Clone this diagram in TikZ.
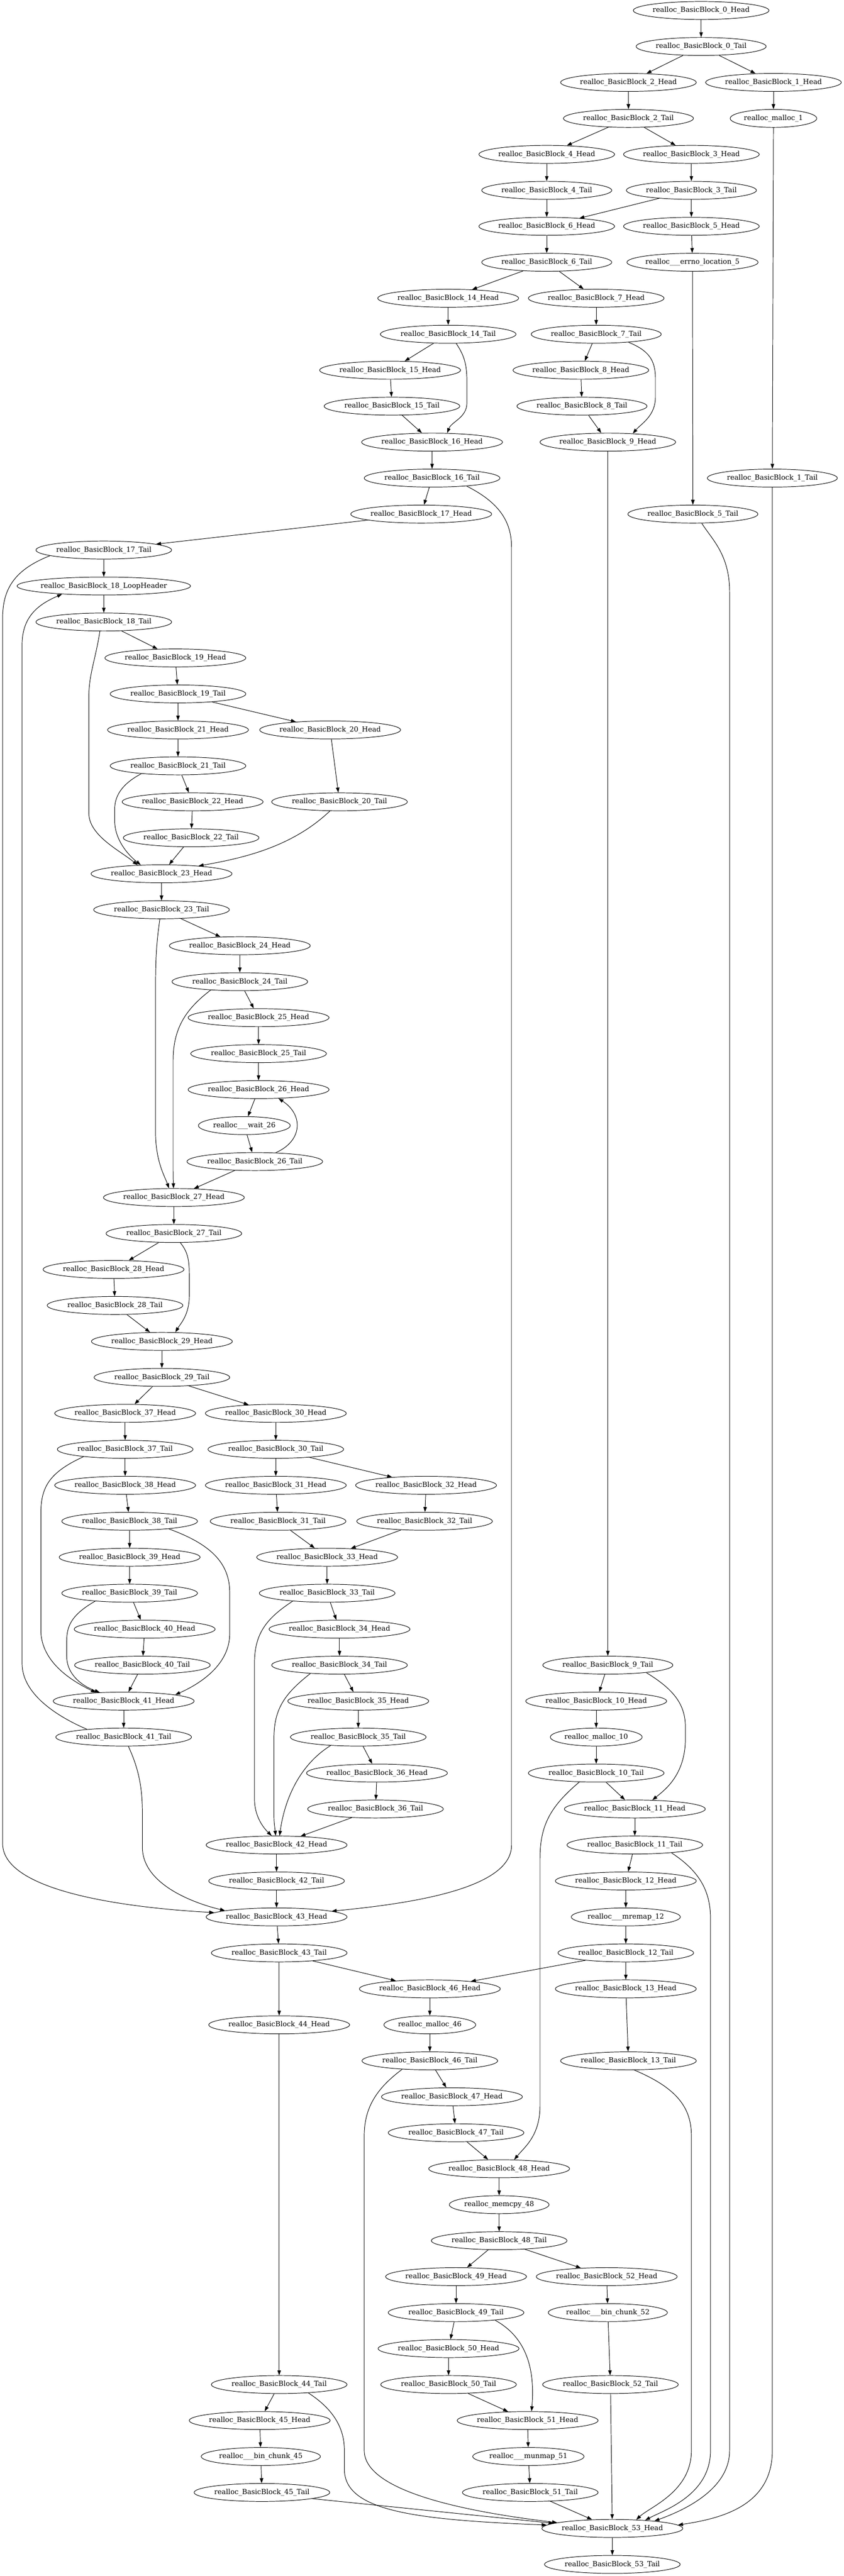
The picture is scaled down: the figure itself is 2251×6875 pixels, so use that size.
\documentclass[tikz,border=0pt]{standalone}
\usepackage{fontspec}
\usetikzlibrary{shapes.geometric,arrows.meta}
\newfontfamily\dvserif{DejaVu Serif}
\tikzset{
 nd/.style={ellipse, draw, line width=1.33pt, inner xsep=-5pt, inner ysep=0pt, minimum height=48pt, font=\dvserif\fontsize{18.67pt}{22pt}\selectfont},
 edg/.style={draw, line width=1.33pt, -{Triangle[length=13.3pt,width=9.3pt]}}
}
\newcommand\mkN[5]{\node[nd, minimum width=#4pt] (#1) at (#2,{28+96*#3}) {#5};}
\newcommand\mkH[5]{\mkN{#1}{#2}{#3}{#5}{realloc\_BasicBlock\_#4\_Head}}
\newcommand\mkT[5]{\mkN{#1}{#2}{#3}{#5}{realloc\_BasicBlock\_#4\_Tail}}
\begin{document}
\begin{tikzpicture}[x=1pt,y=-1pt]
\path[fill=white] (0,0) rectangle (2251,6875);
\mkH{n0H}{1871}{0}{0}{362}
\mkT{n0T}{1871}{1}{0}{347}
\mkH{n2H}{1677}{2}{2}{362}
\mkH{n1H}{2064}{2}{1}{362}
\mkT{n2T}{1677}{3}{2}{347}
\mkN{m1}{2064}{3}{231}{realloc\_malloc\_1}
\mkH{n4H}{1459}{4}{4}{362}
\mkH{n3H}{1845}{4}{3}{362}
\mkT{n4T}{1459}{5}{4}{347}
\mkT{n3T}{1845}{5}{3}{347}
\mkH{n6H}{1459}{6}{6}{362}
\mkH{n5H}{1845}{6}{5}{362}
\mkT{n6T}{1459}{7}{6}{347}
\mkN{e5}{1848}{7}{350}{realloc\_\_\_errno\_location\_5}
\mkH{n14H}{1196}{8}{14}{376}
\mkH{n7H}{1591}{8}{7}{362}
\mkT{n14T}{1196}{9}{14}{362}
\mkT{n7T}{1591}{9}{7}{347}
\mkH{n15H}{1041}{10}{15}{376}
\mkH{n8H}{1550}{10}{8}{362}
\mkT{n15T}{1046}{11}{15}{362}
\mkT{n8T}{1553}{11}{8}{347}
\mkH{n16H}{1153}{12}{16}{376}
\mkH{n9H}{1622}{12}{9}{362}
\mkT{n16T}{1153}{13}{16}{362}
\mkT{n1T}{2061}{13}{1}{347}
\mkH{n17H}{1124}{14}{17}{376}
\mkT{n5T}{1849}{14}{5}{347}
\mkT{n17T}{277}{15}{17}{362}
\mkN{n18L}{277}{16}{460}{realloc\_BasicBlock\_18\_LoopHeader}
\mkT{n18T}{277}{17}{18}{362}
\mkH{n19H}{468}{18}{19}{376}
\mkT{n19T}{475}{19}{19}{362}
\mkH{n21H}{475}{20}{21}{376}
\mkH{n20H}{881}{20}{20}{376}
\mkT{n21T}{475}{21}{21}{362}
\mkH{n22H}{514}{22}{22}{376}
\mkT{n20T}{906}{22}{20}{362}
\mkT{n22T}{510}{23}{22}{362}
\mkH{n23H}{431}{24}{23}{376}
\mkT{n23T}{431}{25}{23}{362}
\mkH{n24H}{640}{26}{24}{376}
\mkT{n24T}{640}{27}{24}{362}
\mkH{n25H}{690}{28}{25}{376}
\mkT{n25T}{690}{29}{25}{362}
\mkH{n26H}{690}{30}{26}{376}
\mkN{w26}{652}{31}{245}{realloc\_\_\_wait\_26}
\mkT{n26T}{680}{32}{26}{362}
\mkH{n27H}{464}{33}{27}{376}
\mkT{n27T}{464}{34}{27}{362}
\mkH{n28H}{303}{35}{28}{376}
\mkT{n28T}{307}{36}{28}{362}
\mkH{n29H}{432}{37}{29}{376}
\mkT{n29T}{432}{38}{29}{362}
\mkH{n37H}{334}{39}{37}{376}
\mkH{n30H}{736}{39}{30}{376}
\mkT{n37T}{334}{40}{37}{362}
\mkT{n30T}{736}{40}{30}{362}
\mkH{n38H}{334}{41}{38}{376}
\mkH{n31H}{736}{41}{31}{376}
\mkH{n32H}{1137}{41}{32}{376}
\mkT{n38T}{346}{42}{38}{362}
\mkT{n31T}{742}{42}{31}{362}
\mkT{n32T}{1133}{42}{32}{362}
\mkH{n39H}{346}{43}{39}{376}
\mkH{n33H}{873}{43}{33}{376}
\mkT{n39T}{346}{44}{39}{362}
\mkT{n33T}{873}{44}{33}{362}
\mkH{n40H}{386}{45}{40}{376}
\mkH{n34H}{906}{45}{34}{376}
\mkT{n40T}{380}{46}{40}{362}
\mkT{n34T}{906}{46}{34}{362}
\mkT{n9T}{1622}{46}{9}{347}
\mkH{n41H}{330}{47}{41}{376}
\mkH{n35H}{956}{47}{35}{376}
\mkH{n10H}{1591}{47}{10}{376}
\mkT{n41T}{330}{48}{41}{362}
\mkT{n35T}{956}{48}{35}{362}
\mkN{m10}{1591}{48}{245}{realloc\_malloc\_10}
\mkH{n36H}{1006}{49}{36}{376}
\mkT{n10T}{1591}{49}{10}{362}
\mkT{n36T}{1002}{50}{36}{362}
\mkH{n11H}{1694}{50}{11}{376}
\mkH{n42H}{738}{51}{42}{376}
\mkT{n11T}{1694}{51}{11}{362}
\mkT{n42T}{738}{52}{42}{362}
\mkH{n12H}{1670}{52}{12}{376}
\mkH{n43H}{738}{53}{43}{376}
\mkN{mr12}{1670}{53}{291}{realloc\_\_\_mremap\_12}
\mkT{n43T}{745}{54}{43}{362}
\mkT{n12T}{1670}{54}{12}{362}
\mkH{n46H}{1147}{55}{46}{376}
\mkH{n13H}{1670}{55}{13}{376}
\mkH{n44H}{745}{56}{44}{376}
\mkN{m46}{1147}{56}{245}{realloc\_malloc\_46}
\mkT{n46T}{1147}{57}{46}{362}
\mkT{n13T}{1677}{57}{13}{362}
\mkH{n47H}{1206}{58}{47}{376}
\mkT{n47T}{1217}{59}{47}{362}
\mkH{n48H}{1332}{60}{48}{376}
\mkN{mc48}{1332}{61}{266}{realloc\_memcpy\_48}
\mkT{n48T}{1332}{62}{48}{362}
\mkH{n49H}{1217}{63}{49}{376}
\mkH{n52H}{1619}{63}{52}{376}
\mkT{n49T}{1217}{64}{49}{362}
\mkN{bc52}{1622}{64}{318}{realloc\_\_\_bin\_chunk\_52}
\mkH{n50H}{1197}{65}{50}{376}
\mkT{n44T}{745}{66}{44}{362}
\mkT{n50T}{1197}{66}{50}{362}
\mkT{n52T}{1629}{66}{52}{362}
\mkH{n45H}{693}{67}{45}{376}
\mkH{n51H}{1408}{67}{51}{376}
\mkN{bc45}{696}{68}{318}{realloc\_\_\_bin\_chunk\_45}
\mkN{mu51}{1410}{68}{297}{realloc\_\_\_munmap\_51}
\mkT{n45T}{699}{69}{45}{362}
\mkT{n51T}{1415}{69}{51}{362}
\mkH{n53H}{1634}{70}{53}{376}
\mkT{n53T}{1634}{71}{53}{362}
% straight edges
\foreach \a/\b in {n0H/n0T, n0T/n2H, n0T/n1H, n2H/n2T, n1H/m1, n2T/n4H, n2T/n3H, m1/n1T, n4H/n4T, n3H/n3T, n4T/n6H, n3T/n6H, n3T/n5H, n6H/n6T, n5H/e5, e5/n5T, n6T/n14H, n6T/n7H, n14H/n14T, n7H/n7T, n14T/n15H, n15H/n15T, n15T/n16H, n7T/n8H, n8H/n8T, n8T/n9H, n16H/n16T, n9H/n9T, n16T/n17H, n17H/n17T, n17T/n18L, n18L/n18T, n18T/n19H, n19H/n19T, n19T/n21H, n19T/n20H, n21H/n21T, n20H/n20T, n21T/n22H, n22H/n22T, n22T/n23H, n23H/n23T, n23T/n24H, n24H/n24T, n24T/n25H, n25H/n25T, n25T/n26H, n26H/w26, w26/n26T, n26T/n27H, n27H/n27T, n27T/n28H, n28H/n28T, n28T/n29H, n29H/n29T, n29T/n37H, n29T/n30H, n37H/n37T, n30H/n30T, n37T/n38H, n30T/n31H, n30T/n32H, n38H/n38T, n31H/n31T, n32H/n32T, n38T/n39H, n31T/n33H, n32T/n33H, n39H/n39T, n33H/n33T, n39T/n40H, n33T/n34H, n40H/n40T, n34H/n34T, n40T/n41H, n9T/n10H, n41H/n41T, n34T/n35H, n35H/n35T, n10H/m10, n35T/n36H, m10/n10T, n36H/n36T, n36T/n42H, n10T/n11H, n11H/n11T, n42H/n42T, n11T/n12H, n42T/n43H, n12H/mr12, n43H/n43T, mr12/n12T, n43T/n44H, n43T/n46H, n12T/n46H, n12T/n13H, n46H/m46, n13H/n13T, n44H/n44T, m46/n46T, n46T/n47H, n47H/n47T, n47T/n48H, n48H/mc48, mc48/n48T, n48T/n49H, n48T/n52H, n49H/n49T, n52H/bc52, n49T/n50H, bc52/n52T, n50H/n50T, n50T/n51H, n44T/n45H, n45H/bc45, n51H/mu51, bc45/n45T, mu51/n51T, n51T/n53H, n52T/n53H, n53H/n53T}
  \draw[edg] (\a) -- (\b);
% curved edges
\draw[edg] (n14T.-49) .. controls (1240,950) and (1246,975) .. (1246,1020) -- (1246,1075) .. controls (1246,1115) and (1205,1125) .. (n16H.31);
\draw[edg] (n7T.-14) .. controls (1730,935) and (1749,960) .. (1749,1010) -- (1749,1060) .. controls (1749,1110) and (1712,1130) .. (n9H.19);
\draw[edg] (n16T.-13) .. controls (1330,1340) and (1365,1390) .. (1365,1460) -- (1365,4925) .. controls (1365,5040) and (1100,5080) .. (n43H.6);
\draw[edg] (n1T) -- (2061,6540) .. controls (2061,6690) and (1920,6722) .. (n53H.3);
\draw[edg] (n5T.-46) .. controls (1900,1440) and (1947,1480) .. (1947,1580) -- (1947,6540) .. controls (1947,6650) and (1810,6705) .. (n53H.10);
\draw[edg] (n17T.186) .. controls (40,1520) and (7,1570) .. (7,1650) -- (7,4920) .. controls (7,5060) and (400,5095) .. (n43H.176);
\draw[edg] (n41T.168) .. controls (150,4580) and (59,4520) .. (59,4440) -- (59,1720) .. controls (59,1640) and (110,1610) .. (n18L.191);
\draw[edg] (n18T.-113) .. controls (255,1760) and (237,1800) .. (237,1860) -- (237,2170) .. controls (237,2230) and (320,2270) .. (n23H.160);
\draw[edg] (n21T.192) .. controls (330,2090) and (306,2120) .. (306,2160) -- (306,2190) .. controls (306,2240) and (340,2280) .. (n23H.157);
\draw[edg] (n20T) .. controls (780,2260) and (650,2290) .. (n23H.12);
\draw[edg] (n23T.-100) .. controls (417,2520) and (415,2560) .. (415,2650) -- (415,3020) .. controls (415,3100) and (440,3140) .. (n27H.118);
\draw[edg] (n24T.196) .. controls (500,2690) and (462,2740) .. (462,2830) -- (462,3100) .. controls (462,3140) .. (n27H);
\draw[edg] (n26T.23) .. controls (808,3045) and (810,2975) .. (n26H.-24);
\draw[edg] (n27T.-55) .. controls (500,3340) and (505,3360) .. (505,3400) -- (505,3460) .. controls (505,3510) and (480,3535) .. (n29H.34);
\draw[edg] (n37T.190) .. controls (130,3930) and (109,3970) .. (109,4040) -- (109,4350) .. controls (109,4440) and (200,4490) .. (n41H.163);
\draw[edg] (n38T.-11) .. controls (560,4120) and (613,4170) .. (613,4250) -- (613,4360) .. controls (613,4450) and (520,4500) .. (n41H.7);
\draw[edg] (n39T.193) .. controls (190,4310) and (178,4340) .. (178,4380) -- (178,4420) .. controls (178,4470) and (220,4500) .. (n41H.160);
\draw[edg] (n33T.193) .. controls (710,4320) and (679,4360) .. (679,4440) -- (679,4800) .. controls (679,4850) and (705,4880) .. (n42H.118);
\draw[edg] (n9T.-11) .. controls (1800,4510) and (1829,4550) .. (1829,4610) -- (1829,4640) .. controls (1829,4740) and (1770,4780) .. (n11H.27);
\draw[edg] (n34T.196) .. controls (760,4520) and (731,4560) .. (731,4640) -- (731,4830) .. controls (731,4860) .. (n42H.95);
\draw[edg] (n41T.-63) .. controls (370,4720) and (380,4770) .. (380,4840) -- (380,4930) .. controls (380,5030) and (520,5080) .. (n43H.173);
\draw[edg] (n35T.197) .. controls (800,4710) and (760,4800) .. (n42H.72);
\draw[edg] (n10T.208) .. controls (1470,4820) and (1441,4870) .. (1441,4960) -- (1441,5620) .. controls (1441,5700) and (1400,5730) .. (n48H.31);
\draw[edg] (n11T.-12) .. controls (1860,4990) and (1896,5040) .. (1896,5120) -- (1896,6540) .. controls (1896,6660) and (1770,6700) .. (n53H.14);
\draw[edg] (n46T.197) .. controls (1010,5570) and (972,5620) .. (972,5700) -- (972,6540) .. controls (972,6660) and (1300,6710) .. (n53H.174);
\draw[edg] (n13T.-58) .. controls (1800,5570) and (1845,5620) .. (1845,5700) -- (1845,6540) .. controls (1845,6650) and (1735,6690) .. (n53H.20);
\draw[edg] (n49T.-11) .. controls (1390,6230) and (1430,6300) .. (n51H.67);
\draw[edg] (n44T.-16) .. controls (890,6430) and (919,6480) .. (919,6540) -- (919,6590) .. controls (919,6700) and (1100,6725) .. (n53H.177);
\draw[edg] (n45T.-7) -- (n53H.175);
\end{tikzpicture}
\end{document}
